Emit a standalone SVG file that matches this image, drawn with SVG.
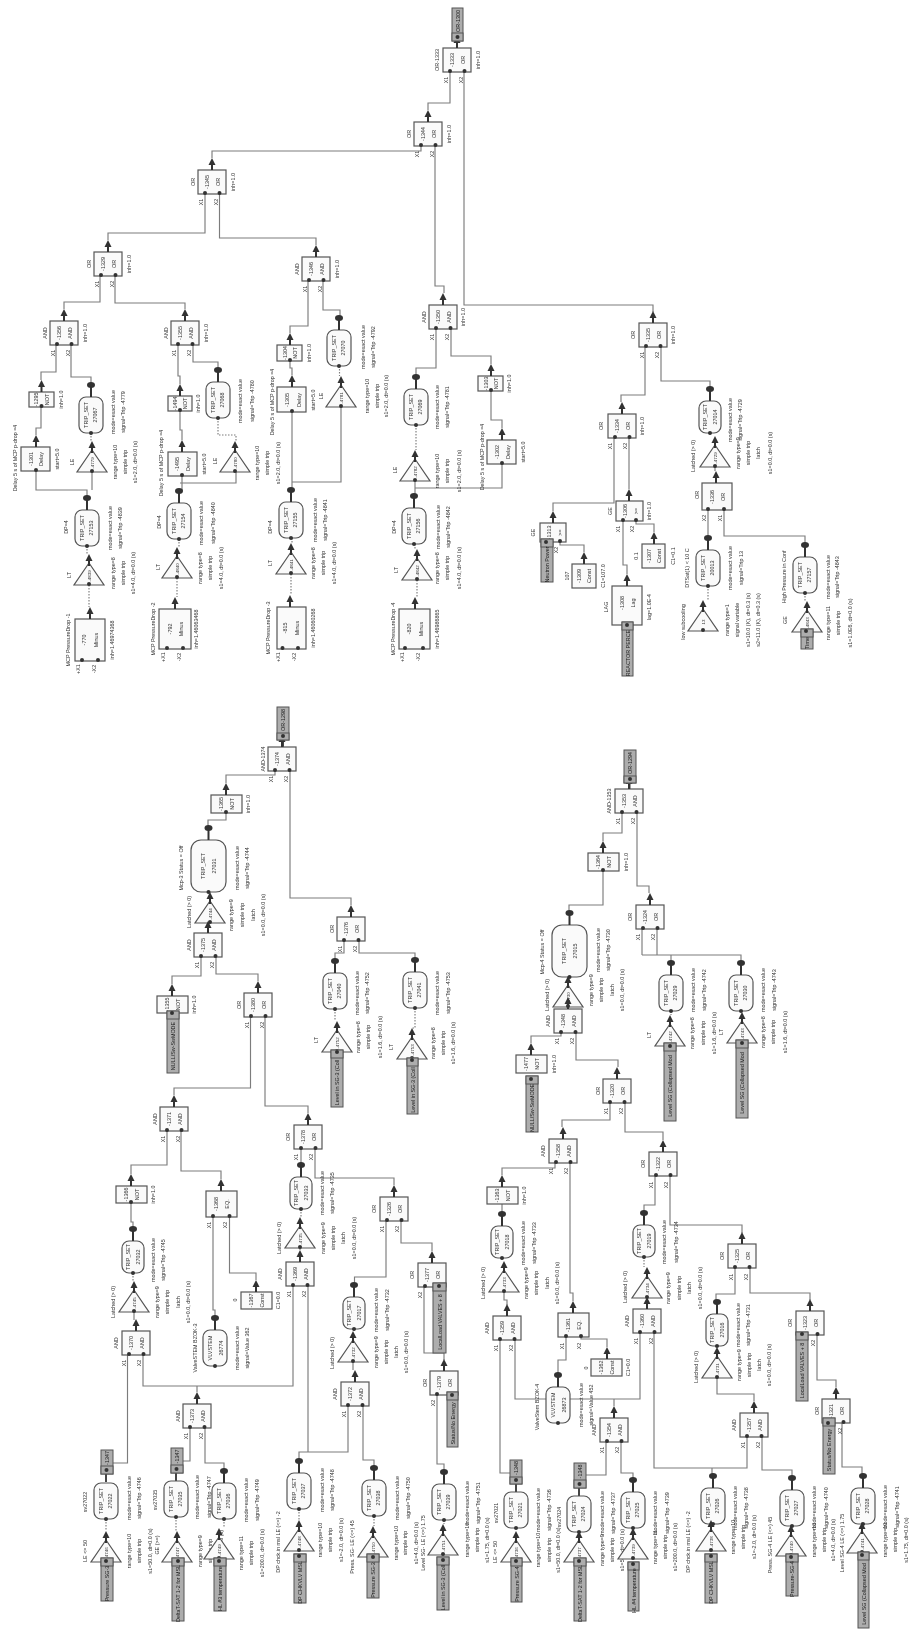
<svg xmlns="http://www.w3.org/2000/svg" width="910" height="1630" viewBox="0 0 910 1630">
<style>
text{font-family:"Liberation Sans",Arial,sans-serif;font-size:5.4px;fill:#333;text-anchor:middle;dominant-baseline:central}
.i{font-size:4.4px}
.b{fill:#fafafa;stroke:#555;stroke-width:1.2}
.tg{fill:#adadad;stroke:#555;stroke-width:1}
.tt{fill:#1c1c1c}
.w path{fill:none;stroke:#7c7c7c;stroke-width:1.15}
.w path.d{stroke-dasharray:1.5 1.5}
.w path.s{stroke:#444;stroke-width:2}
</style>
<defs>
<filter id="bl" filterUnits="userSpaceOnUse" x="0" y="0" width="910" height="1630"><feGaussianBlur stdDeviation="0.45"/></filter>
<circle id="d" r="2" fill="#333"/>
<g id="A"><path d="M0 0H6" stroke="#333" stroke-width="2"/><path d="M5-3.5V3.5L12 0Z" fill="#333"/></g>
<g id="B"><path d="M0 0H12" stroke="#333" stroke-width="2"/><ellipse cx="12" rx="3" ry="4" fill="#333"/></g>
<g id="G"><rect class="b" width="24" height="28"/><use href="#A" x="24" y="14"/><use href="#d" x="1" y="7"/><use href="#d" x="1" y="21.5"/></g>
<g id="R"><rect class="b" width="36" height="24" rx="7"/><use href="#B" x="36" y="12"/><use href="#d" y="12"/></g>
<g id="Q"><rect class="b" width="36" height="24" rx="7"/><use href="#d" y="12"/></g>
<g id="S"><rect class="b" width="32" height="22" rx="7"/><use href="#B" x="32" y="11"/><use href="#d" y="11"/></g>
<g id="U"><rect class="b" width="52" height="35" rx="10"/><use href="#B" x="52" y="17.5"/><use href="#d" y="17.5"/></g>
<g id="T"><path class="b" d="M0 0V30L22 15Z"/><use href="#A" x="19" y="15"/><use href="#d" x="1" y="15"/></g>
</defs>
<rect width="910" height="1630" fill="#fff"/>
<g filter="url(#bl)">
<g id="connectors" class="w">
<path class="s" d="M457 41V48M283 740V747M629.5 783V789M106 1474V1482M176 1473V1481M516 1484V1492M579 1488V1496"/>
<path d="M450 72V103H428V110M464 72V305H653V312M421 146V151H212V158M435 146V286H444V293M205 193V233H108V240M219.5 193V238H316V245M100 275V302H64V309M115 275V303H185V309M56 344V372H41V380M71 344V377H91V385M41 407V428H36V435M36 471V490H87V498M92 472V490"/>
<path d="M178 344V376H180V384M193 344V362H218V370M180 411V430H182V440M182 476V491M236 472V483H180"/>
<path d="M308 280V326H290V333M323 280V310H340V319M290 361V368H292V375M292 412V490M341 407V482H292"/>
<path d="M436 329V368H416V377M415 481V496M451 329V356H491V364M491 391V420H502V428M502 464V488H415"/>
<path d="M645 347V395H621V402M661 347V381H710V390M715 467V471M614 438V503H553V511M629 438V489M560 542V545H584V552M623 520V565H627V574M636 520V524H654V532M708 510V537M724 510V536H805V546"/>
<path class="d" d="M91 433V441M87 546V554M89 585V607M218 418V435H236V441M179 539V547M177 578V597M339.5 366V376M292 538V543M291 574V595M416 425V450M415 544V549M417 580V597M710 433V436M708 586V600M805 593V601"/>
<path d="M275 771V775H226V783M290 771V898H351V905M226 813V820H208V828M201 957V976H172V984M216 957V974H258V981M250.5 1016V1088H174V1095M265 1016V1106H308V1113M167 1130V1165H131V1174M181 1130V1171H221V1179M131 1203V1222H133V1229M134 1312V1320M127.5 1355V1463H113M143 1355V1386H293V1286M197 1392V1386M190 1428V1461H183M205 1428V1463H224V1472M213 1216V1310H215V1319M229.5 1216V1273H256V1280M301 1149V1166M315 1149V1178H394V1185M300 1248V1250M386 1221V1277H354.5V1286M401 1221V1243H432V1251M353 1362V1370M308 1286V1452M348 1406V1452H299V1461M363 1406V1460H374V1468M424 1287V1353H444V1360M437 1395V1464H444V1473M344 941V953H335V961M359 941V953H415V961"/>
<path class="d" d="M133 1273V1281M106 1519V1531M176 1517V1531M224 1519V1528M301 1209V1217M354 1329V1331M299 1509V1520M374 1516V1526M444 1520V1524M335 1009V1021M415 1008V1028H412"/>
<path d="M622 813V833H603V841M637 813V886H649V893M603 871V905H569V913M642 929V955M657 929V955M642 955H741V963M671 955V963M561 1033V1036H531V1043M576 1033V1060H618V1067M610 1103V1120H562V1127M625 1103V1132H663V1140M555 1163V1168H502V1175M570 1163V1293H573V1301M502 1204V1214M504 1292V1300H507V1305M655 1176V1205H644V1214M670 1176V1225H742V1233M735 1268V1294H716V1303M750 1268V1293H810V1300M717 1378V1394H754V1401M747 1437V1468H654V1333M712 1468V1476M762 1437V1470H792V1478M842 1423V1467H862V1476M817 1335V1380H836V1387M500 1340V1473H510M515 1340V1399H640V1333M614 1406V1399M566 1337V1360H558V1376M581 1337V1339H607V1347M606 1442V1475H586M621 1442V1473H633V1481"/>
<path class="d" d="M671 1011V1015M741 1011V1012M502 1258V1261M644 1257V1267M716 1346V1347"/>
</g>
<g id="gates-top">
<g id="n1333" transform="translate(443 72)rotate(-90)"><use href="#G"/><text x="12" y="-6">OR-1333</text><text x="12" y="9">-1333</text><text x="12" y="20">OR</text><text x="12" y="35">inh=1.0</text><text x="-8" y="3">X1</text><text x="-8" y="18">X2</text></g>
<g id="n1344" transform="translate(414 146)rotate(-90)"><use href="#G"/><text x="12" y="-5">OR</text><text x="12" y="9">-1344</text><text x="12" y="20">OR</text><text x="12" y="35">inh=1.0</text><text x="-8" y="3">X1</text><text x="-8" y="18">X2</text></g>
<g id="n1345" transform="translate(198 194)rotate(-90)"><use href="#G"/><text x="12" y="-5">OR</text><text x="12" y="9">-1345</text><text x="12" y="20">OR</text><text x="12" y="35">inh=1.0</text><text x="-8" y="3">X1</text><text x="-8" y="18">X2</text></g>
<g id="n1329" transform="translate(94 276)rotate(-90)"><use href="#G"/><text x="12" y="-5">OR</text><text x="12" y="9">-1329</text><text x="12" y="20">OR</text><text x="12" y="35">inh=1.0</text><text x="-8" y="3">X1</text><text x="-8" y="18">X2</text></g>
<g id="n1346" transform="translate(302 281)rotate(-90)"><use href="#G"/><text x="12" y="-5">AND</text><text x="12" y="9">-1346</text><text x="12" y="20">AND</text><text x="12" y="35">inh=1.0</text><text x="-8" y="3">X1</text><text x="-8" y="18">X2</text></g>
<g id="n1356" transform="translate(50 345)rotate(-90)"><use href="#G"/><text x="12" y="-5">AND</text><text x="12" y="9">-1356</text><text x="12" y="20">AND</text><text x="12" y="35">inh=1.0</text><text x="-8" y="3">X1</text><text x="-8" y="18">X2</text></g>
<g id="n1355" transform="translate(171 345)rotate(-90)"><use href="#G"/><text x="12" y="-5">AND</text><text x="12" y="9">-1355</text><text x="12" y="20">AND</text><text x="12" y="35">inh=1.0</text><text x="-8" y="3">X1</text><text x="-8" y="18">X2</text></g>
<g id="n1350" transform="translate(429 329)rotate(-90)"><use href="#G"/><text x="12" y="-5">AND</text><text x="12" y="9">-1350</text><text x="12" y="20">AND</text><text x="12" y="34">inh=1.0</text><text x="-8" y="3">X1</text><text x="-8" y="18">X2</text></g>
<g id="n1335" transform="translate(639 347)rotate(-90)"><use href="#G"/><text x="12" y="-6">OR</text><text x="12" y="9">-1335</text><text x="12" y="20">OR</text><text x="12" y="34">inh=1.0</text><text x="-8" y="3">X1</text><text x="-8" y="18">X2</text></g>
<g id="n1334" transform="translate(608 438)rotate(-90)"><use href="#G"/><text x="12" y="-7">OR</text><text x="12" y="9">-1334</text><text x="12" y="20">OR</text><text x="12" y="34">inh=1.0</text><text x="-8" y="2">X1</text><text x="-8" y="17">X2</text></g>
</g>
<g id="mcp-chains">
<g id="n1295" transform="translate(29 407)rotate(-90)"><rect class="b" width="15" height="25"/><use href="#A" x="15" y="12.5"/><use href="#d" x="1" y="12.5"/><text x="7.5" y="7">-1295</text><text x="7.5" y="18">NOT</text><text x="7.5" y="32">inh=1.0</text></g>
<g id="n1301" transform="translate(21 471)rotate(-90)"><rect class="b" width="24" height="29"/><use href="#A" x="24" y="15"/><use href="#d" x="1" y="15"/><text x="12" y="10">-1301</text><text x="12" y="20">Delay</text><text x="12" y="36">start=5.0</text><text x="13" y="-6">Delay 5 s of MCP p-drop =4</text></g>
<g id="n27067" transform="translate(79 433)rotate(-90)"><use href="#R"/><text x="18" y="7">TRIP_SET</text><text x="18" y="16">27067</text><text x="21" y="34">mode=exact value</text><text x="21" y="44">signal=Trip -4779</text></g>
<g id="t4779" transform="translate(77 472)rotate(-90)"><use href="#T"/><text class="i" x="9" y="15">-4779</text><text x="10" y="-5">LE</text><text x="10" y="38">range type=10</text><text x="10" y="48">simple trip</text><text x="10" y="58">s1=2.0, dt=0.0 (s)</text></g>
<g id="n27153" transform="translate(75 546)rotate(-90)"><use href="#R"/><text x="18" y="7">TRIP_SET</text><text x="18" y="16">27153</text><text x="18" y="35">mode=exact value</text><text x="18" y="45">signal=Trip -4839</text><text x="19" y="-9">DP=4</text></g>
<g id="t4839" transform="translate(74 585)rotate(-90)"><use href="#T"/><text class="i" x="9" y="15">-4839</text><text x="10" y="-5">LT</text><text x="12" y="39">range type=8</text><text x="12" y="49">simple trip</text><text x="12" y="59">s1=4.0, dt=0.0 (s)</text></g>
<g id="n770" transform="translate(75 661)rotate(-90)"><rect class="b" width="42" height="30"/><use href="#A" x="42" y="15"/><use href="#d" x="1" y="7"/><use href="#d" x="1" y="23"/><text x="21" y="9">-770</text><text x="21" y="21">Minus</text><text x="21" y="-7">MCP PressureDrop -1</text><text x="21" y="37">inh=1.46974368</text><text x="-8" y="3">+X1</text><text x="-8" y="19">-X2</text></g>
<g id="n1494" transform="translate(168 411)rotate(-90)"><rect class="b" width="15" height="24"/><use href="#A" x="15" y="12"/><use href="#d" x="1" y="12"/><text x="7.5" y="7">-1494</text><text x="7.5" y="17">NOT</text><text x="7.5" y="30">inh=1.0</text></g>
<g id="n1495" transform="translate(168 476)rotate(-90)"><rect class="b" width="24" height="29"/><use href="#A" x="24" y="14"/><use href="#d" x="1" y="14"/><text x="12" y="9">-1495</text><text x="12" y="20">Delay</text><text x="12" y="36">start=5.0</text><text x="13" y="-7">Delay 5 s of MCP p-drop =4</text></g>
<g id="n27068" transform="translate(206 418)rotate(-90)"><use href="#R"/><text x="18" y="7">TRIP_SET</text><text x="18" y="16">27068</text><text x="17" y="34">mode=exact value</text><text x="17" y="46">signal=Trip -4780</text></g>
<g id="t4780" transform="translate(220 472)rotate(-90)"><use href="#T"/><text class="i" x="9" y="15">-4780</text><text x="11" y="-5">LE</text><text x="9" y="37">range type=10</text><text x="9" y="47">simple trip</text><text x="9" y="58">s1=2.0, dt=0.0 (s)</text></g>
<g id="n27154" transform="translate(167 539)rotate(-90)"><use href="#R"/><text x="18" y="7">TRIP_SET</text><text x="18" y="16">27154</text><text x="16" y="34">mode=exact value</text><text x="16" y="46">signal=Trip -4840</text><text x="17" y="-8">DP=4</text></g>
<g id="t4840" transform="translate(162 578)rotate(-90)"><use href="#T"/><text class="i" x="9" y="15">-4840</text><text x="11" y="-4">LT</text><text x="10" y="38">range type=8</text><text x="10" y="48">simple trip</text><text x="10" y="59">s1=4.0, dt=0.0 (s)</text></g>
<g id="n792" transform="translate(159 649)rotate(-90)"><rect class="b" width="40" height="32"/><use href="#A" x="40" y="16"/><use href="#d" x="1" y="8"/><use href="#d" x="1" y="24"/><text x="20" y="11">-792</text><text x="20" y="22">Minus</text><text x="20" y="-6">MCP PressureDrop -2</text><text x="20" y="37">inh=1.46063468</text><text x="-8" y="4">+X1</text><text x="-8" y="20">-X2</text></g>
<g id="n1304" transform="translate(277 361)rotate(-90)"><rect class="b" width="16" height="25"/><use href="#A" x="16" y="13"/><use href="#d" x="1" y="13"/><text x="8" y="8">-1304</text><text x="8" y="18">NOT</text><text x="8" y="32">inh=1.0</text></g>
<g id="n1305" transform="translate(277 412)rotate(-90)"><rect class="b" width="25" height="29"/><use href="#A" x="25" y="15"/><use href="#d" x="1" y="15"/><text x="12" y="10">-1305</text><text x="12" y="22">Delay</text><text x="12" y="36">start=5.0</text><text x="10" y="-5">Delay 5 s of MCP p-drop =4</text></g>
<g id="n27070" transform="translate(327 366)rotate(-90)"><use href="#R"/><text x="18" y="7">TRIP_SET</text><text x="18" y="16">27070</text><text x="19" y="36">mode=exact value</text><text x="19" y="46">signal=Trip -4792</text></g>
<g id="t4781" transform="translate(326 407)rotate(-90)"><use href="#T"/><text class="i" x="9" y="15">-4781</text><text x="11" y="-5">LE</text><text x="11" y="41">range type=10</text><text x="11" y="51">simple trip</text><text x="11" y="60">s1=2.0, dt=0.0 (s)</text></g>
<g id="n27155" transform="translate(279 538)rotate(-90)"><use href="#R"/><text x="18" y="7">TRIP_SET</text><text x="18" y="16">27155</text><text x="18" y="36">mode=exact value</text><text x="18" y="46">signal=Trip -4841</text><text x="11" y="-9">DP=4</text></g>
<g id="t4841" transform="translate(276 574)rotate(-90)"><use href="#T"/><text class="i" x="9" y="15">-4841</text><text x="11" y="-6">LT</text><text x="11" y="37">range type=8</text><text x="11" y="47">simple trip</text><text x="11" y="58">s1=4.0, dt=0.0 (s)</text></g>
<g id="n815" transform="translate(277 649)rotate(-90)"><rect class="b" width="42" height="29"/><use href="#A" x="42" y="13"/><use href="#d" x="1" y="5.5"/><use href="#d" x="1" y="21"/><text x="21" y="8">-815</text><text x="21" y="20">Minus</text><text x="21" y="-9">MCP PressureDrop -3</text><text x="21" y="36">inh=1.46060268</text><text x="-8" y="1">+X1</text><text x="-8" y="17">-X2</text></g>
<g id="n27069" transform="translate(404 425)rotate(-90)"><use href="#R"/><text x="18" y="7">TRIP_SET</text><text x="18" y="16">27069</text><text x="18" y="33">mode=exact value</text><text x="18" y="43">signal=Trip -4781</text></g>
<g id="t4782" transform="translate(400 481)rotate(-90)"><use href="#T"/><text class="i" x="9" y="15">-4782</text><text x="11" y="-5">LE</text><text x="10" y="37">range type=10</text><text x="10" y="47">simple trip</text><text x="10" y="59">s1=2.0, dt=0.0 (s)</text></g>
<g id="n1303" transform="translate(478 391)rotate(-90)"><rect class="b" width="15" height="25"/><use href="#A" x="15" y="13"/><use href="#d" x="1" y="13"/><text x="7.5" y="8">-1303</text><text x="7.5" y="18">NOT</text><text x="7.5" y="31">inh=1.0</text></g>
<g id="n1302" transform="translate(487 464)rotate(-90)"><rect class="b" width="24" height="29"/><use href="#A" x="24" y="15"/><use href="#d" x="1" y="15"/><text x="12" y="10">-1302</text><text x="12" y="21">Delay</text><text x="12" y="36">start=5.0</text><text x="7" y="-5">Delay 5 s of MCP p-drop =4</text></g>
<g id="n27156" transform="translate(402 544)rotate(-90)"><use href="#R"/><text x="18" y="7">TRIP_SET</text><text x="18" y="16">27156</text><text x="17" y="36">mode=exact value</text><text x="17" y="46">signal=Trip -4842</text><text x="17" y="-8">DP=4</text></g>
<g id="t4842" transform="translate(402 580)rotate(-90)"><use href="#T"/><text class="i" x="9" y="15">-4842</text><text x="10" y="-6">LT</text><text x="12" y="35">range type=8</text><text x="12" y="45">simple trip</text><text x="12" y="57">s1=4.0, dt=0.0 (s)</text></g>
<g id="n820" transform="translate(399 649)rotate(-90)"><rect class="b" width="40" height="31"/><use href="#A" x="40" y="16"/><use href="#d" x="1" y="6"/><use href="#d" x="1" y="24"/><text x="20" y="10">-820</text><text x="20" y="22">Minus</text><text x="20" y="-6">MCP PressureDrop -4</text><text x="20" y="38">inh=1.46986865</text><text x="-8" y="3">+X1</text><text x="-8" y="19">-X2</text></g>
</g>
<g id="power-chain">
<g id="n27014" transform="translate(699 433)rotate(-90)"><use href="#S"/><text x="16" y="6">TRIP_SET</text><text x="16" y="16">27014</text><text x="13" y="31">mode=exact value</text><text x="13" y="41">signal=Trip -4729</text></g>
<g id="t4729" transform="translate(700 467)rotate(-90)"><use href="#T"/><text class="i" x="9" y="15">-4729</text><text x="11" y="-7">Latched (&gt; 0)</text><text x="14" y="38">range type=9</text><text x="14" y="48">simple trip</text><text x="14" y="58">latch</text><text x="14" y="70">s1=0.0, dt=0.0 (s)</text></g>
<g id="n1336" transform="translate(702 510)rotate(-90)"><rect class="b" width="27" height="30"/><use href="#A" x="27" y="14"/><use href="#d" x="1" y="6"/><use href="#d" x="1" y="22"/><text x="15" y="-5">OR</text><text x="13" y="10">-1336</text><text x="13" y="21">OR</text><text x="-8" y="2">X2</text><text x="-8" y="18">X1</text></g>
<g id="n20013" transform="translate(696 586)rotate(-90)"><use href="#R"/><text x="18" y="7">TRIP_SET</text><text x="18" y="16">20013</text><text x="18" y="34">mode=exact value</text><text x="18" y="45">signal=Trip 13</text><text x="18" y="-9">DTSat(1) &lt; 10 C</text></g>
<g id="t13" transform="translate(688 631)rotate(-90)"><use href="#T"/><text class="i" x="9" y="15">13</text><text x="9" y="-5">low subcooling</text><text x="11" y="39">range type=1</text><text x="11" y="49">signal variable</text><text x="11" y="60">s1=10.0 (K), dt=0.3 (s)</text><text x="11" y="70">s2=11.0 (K), dt=0.3 (s)</text></g>
<g id="n27157" transform="translate(793 593)rotate(-90)"><use href="#R"/><text x="18" y="7">TRIP_SET</text><text x="18" y="16">27157</text><text x="16" y="35">mode=exact value</text><text x="16" y="44">signal=Trip -4843</text><text x="16" y="-9">High Pressure in Conf</text></g>
<g id="t4843" transform="translate(792 632)rotate(-90)"><use href="#T"/><text class="i" x="9" y="15">-4843</text><text x="12" y="-7">GE</text><text x="9" y="36">range type=11</text><text x="9" y="46">simple trip</text><text x="9" y="58">s1=1.0E6, dt=0.0 (s)</text></g>
<g id="n1306" transform="translate(616 521)rotate(-90)"><rect class="b" width="20" height="27"/><use href="#A" x="20" y="13"/><use href="#d" x="1" y="7"/><use href="#d" x="1" y="20"/><text x="10" y="-6">GE</text><text x="10" y="9">-1306</text><text x="10" y="20">&gt;=</text><text x="10" y="33">inh=1.0</text><text x="-8" y="2">X1</text><text x="-8" y="16">X2</text></g>
<g id="n1313" transform="translate(540 542)rotate(-90)"><rect class="b" width="19" height="26"/><use href="#A" x="19" y="13"/><use href="#d" x="1" y="20"/><text x="9.5" y="-7">GE</text><text x="9.5" y="9">-1313</text><text x="9.5" y="20">&gt;=</text><text x="-8" y="16">X2</text></g>
<g id="n1309" transform="translate(572 588)rotate(-90)"><rect class="b" width="24" height="24"/><use href="#A" x="24" y="12"/><text x="12" y="-5">107</text><text x="12" y="7">-1309</text><text x="12" y="17">Const</text><text x="12" y="31">C1=107.0</text></g>
<g id="n1308" transform="translate(612 625)rotate(-90)"><rect class="b" width="39" height="30"/><use href="#A" x="39" y="15"/><text x="18" y="-6">LAG</text><text x="22" y="10">-1308</text><text x="22" y="21">Lag</text><text x="18" y="37">lag=1.0E-4</text></g>
<g id="n1307" transform="translate(642 568)rotate(-90)"><rect class="b" width="24" height="23"/><use href="#A" x="24" y="12"/><text x="12" y="-6">0.1</text><text x="12" y="7">-1307</text><text x="12" y="17">Const</text><text x="12" y="31">C1=0.1</text></g>
</g>
<g id="mcp3">
<g id="n1374" transform="translate(268 771)rotate(-90)"><use href="#G"/><text x="12" y="-5">AND-1374</text><text x="12" y="9">-1374</text><text x="12" y="20">AND</text><text x="-8" y="3">X1</text><text x="-8" y="18">X2</text></g>
<g id="n1365" transform="translate(211 813)rotate(-90)"><rect class="b" width="18" height="31"/><use href="#A" x="18" y="15"/><use href="#d" x="1" y="15"/><text x="9" y="10">-1365</text><text x="9" y="21">NOT</text><text x="9" y="37">inh=1.0</text></g>
<g id="n27031" transform="translate(191 892)rotate(-90)"><use href="#U"/><text x="26" y="12">TRIP_SET</text><text x="26" y="23">27031</text><text x="24" y="46">mode=exact value</text><text x="24" y="56">signal=Trip -4744</text><text x="24" y="-10">Mcp-3 Status = Off</text></g>
<g id="t4744" transform="translate(195 923)rotate(-90)"><use href="#T"/><text class="i" x="9" y="15">-4744</text><text x="11" y="-6">Latched (&gt; 0)</text><text x="8" y="36">range type=9</text><text x="8" y="47">simple trip</text><text x="8" y="58">latch</text><text x="8" y="68">s1=0.0, dt=0.0 (s)</text></g>
<g id="n1375" transform="translate(194 957)rotate(-90)"><use href="#G"/><text x="12" y="-5">AND</text><text x="12" y="9">-1375</text><text x="12" y="20">AND</text><text x="-8" y="3">X1</text><text x="-8" y="18">X2</text></g>
<g id="n1355b" transform="translate(157 1013)rotate(-90)"><rect class="b" width="17" height="31"/><use href="#A" x="17" y="15"/><text x="8.5" y="10">-1355</text><text x="8.5" y="21">NOT</text><text x="8.5" y="37">inh=1.0</text></g>
<g id="n1380" transform="translate(244 1017)rotate(-90)"><use href="#G"/><text x="12" y="-5">OR</text><text x="12" y="9">-1380</text><text x="12" y="20">OR</text><text x="-8" y="3">X1</text><text x="-8" y="18">X2</text></g>
<g id="n1371" transform="translate(160 1131)rotate(-90)"><use href="#G"/><text x="12" y="-5">AND</text><text x="12" y="9">-1371</text><text x="12" y="20">AND</text><text x="-8" y="3">X1</text><text x="-8" y="18">X2</text></g>
<g id="n1366" transform="translate(116 1203)rotate(-90)"><rect class="b" width="17" height="31"/><use href="#A" x="17" y="15"/><use href="#d" x="1" y="15"/><text x="8.5" y="10">-1366</text><text x="8.5" y="21">NOT</text><text x="8.5" y="37">inh=1.0</text></g>
<g id="n27032" transform="translate(122 1273)rotate(-90)"><use href="#S"/><text x="16" y="6">TRIP_SET</text><text x="16" y="16">27032</text><text x="13" y="31">mode=exact value</text><text x="13" y="41">signal=Trip -4745</text></g>
<g id="t4745" transform="translate(119 1312)rotate(-90)"><use href="#T"/><text class="i" x="9" y="15">-4745</text><text x="10" y="-6">Latched (&gt; 0)</text><text x="10" y="38">range type=9</text><text x="10" y="48">simple trip</text><text x="10" y="59">latch</text><text x="10" y="69">s1=0.0, dt=0.0 (s)</text></g>
<g id="n1370" transform="translate(122 1355)rotate(-90)"><use href="#G"/><text x="12" y="-6">AND</text><text x="12" y="9">-1370</text><text x="12" y="20">AND</text><text x="-8" y="2">X1</text><text x="-8" y="17">X2</text></g>
<g id="n27022" transform="translate(94 1519)rotate(-90)"><use href="#Q"/><text x="18" y="7">TRIP_SET</text><text x="18" y="16">27022</text><text x="21" y="35">mode=exact value</text><text x="21" y="45">signal=Trip -4746</text><text x="17" y="-9">sv27022</text></g>
<g id="t4746" transform="translate(91 1562)rotate(-90)"><use href="#T"/><text class="i" x="9" y="15">-4746</text><text x="11" y="-6">LE &lt;= 50</text><text x="11" y="38">range type=10</text><text x="11" y="48">simple trip</text><text x="11" y="59">s1=50.0, dt=0.0 (s)</text></g>
<g id="n1373" transform="translate(183 1428)rotate(-90)"><use href="#G"/><text x="12" y="-5">AND</text><text x="12" y="9">-1373</text><text x="12" y="20">AND</text><text x="-8" y="3">X1</text><text x="-8" y="18">X2</text></g>
<g id="n27035" transform="translate(164 1517)rotate(-90)"><use href="#Q"/><text x="18" y="7">TRIP_SET</text><text x="18" y="16">27035</text><text x="20" y="33">mode=exact value</text><text x="20" y="45">signal=Trip -4747</text><text x="17" y="-9">sv27035</text></g>
<g id="t4747" transform="translate(162 1562)rotate(-90)"><use href="#T"/><text class="i" x="9" y="15">-4747</text><text x="17" y="-5">GE (&gt;=)</text><text x="11" y="38">range type=9</text><text x="11" y="48">simple trip</text><text x="11" y="59">s1=5.0, dt=0.0 (s)</text></g>
<g id="n27036" transform="translate(212 1519)rotate(-90)"><use href="#R"/><text x="18" y="7">TRIP_SET</text><text x="18" y="16">27036</text><text x="19" y="34">mode=exact value</text><text x="19" y="45">signal=Trip -4749</text></g>
<g id="t4749" transform="translate(204 1559)rotate(-90)"><use href="#T"/><text class="i" x="9" y="15">-4749</text><text x="6" y="37">range type=11</text><text x="6" y="47">simple trip</text><text x="6" y="58">s1=200.0, dt=0.0 (s)</text></g>
<g id="n1368" transform="translate(206 1217)rotate(-90)"><rect class="b" width="26" height="31"/><use href="#A" x="26" y="15"/><use href="#d" x="1" y="7"/><use href="#d" x="1" y="23.5"/><text x="13" y="10">-1368</text><text x="13" y="21">EQ.</text><text x="-8" y="3">X1</text><text x="-8" y="19">X2</text></g>
<g id="n1367" transform="translate(241 1309)rotate(-90)"><rect class="b" width="17" height="31"/><use href="#A" x="17" y="15"/><text x="9" y="-6">0</text><text x="8.5" y="10">-1367</text><text x="8.5" y="21">Const</text><text x="8.5" y="37">C1=0.0</text></g>
<g id="n26774" transform="translate(203 1366)rotate(-90)"><use href="#R"/><text x="18" y="7">VLVSTEM</text><text x="18" y="18">26774</text><text x="18" y="34">mode=exact value</text><text x="18" y="44">signal=Value 362</text><text x="18" y="-8">ValveSTEM BZOK-3</text></g>
<g id="n1378" transform="translate(294 1149)rotate(-90)"><use href="#G"/><text x="12" y="-6">OR</text><text x="12" y="9">-1378</text><text x="12" y="20">OR</text><text x="-8" y="2">X1</text><text x="-8" y="17">X2</text></g>
<g id="n27033" transform="translate(290 1209)rotate(-90)"><use href="#S"/><text x="16" y="6">TRIP_SET</text><text x="16" y="16">27033</text><text x="16" y="32">mode=exact value</text><text x="16" y="42">signal=Trip -4735</text></g>
<g id="t4735" transform="translate(285 1248)rotate(-90)"><use href="#T"/><text class="i" x="9" y="15">-4735</text><text x="10" y="-6">Latched (&gt; 0)</text><text x="10" y="38">range type=9</text><text x="10" y="48">simple trip</text><text x="10" y="58">latch</text><text x="10" y="69">s1=0.0, dt=0.0 (s)</text></g>
<g id="n1369" transform="translate(286 1286)rotate(-90)"><use href="#G"/><text x="12" y="-6">AND</text><text x="12" y="9">-1369</text><text x="12" y="20">AND</text><text x="-8" y="3">X1</text><text x="-8" y="18">X2</text></g>
<g id="n27037" transform="translate(287 1509)rotate(-90)"><use href="#R"/><text x="18" y="7">TRIP_SET</text><text x="18" y="16">27037</text><text x="19" y="35">mode=exact value</text><text x="19" y="45">signal=Trip -4748</text></g>
<g id="t4748" transform="translate(284 1551)rotate(-90)"><use href="#T"/><text class="i" x="9" y="15">-4748</text><text x="9" y="-6">DP chck.in msl LE (&lt;=) -2</text><text x="11" y="36">range type=10</text><text x="11" y="46">simple trip</text><text x="11" y="57">s1=-2.0, dt=0.0 (s)</text></g>
<g id="n1326" transform="translate(380 1221)rotate(-90)"><use href="#G"/><text x="12" y="-6">OR</text><text x="12" y="9">-1326</text><text x="12" y="20">OR</text><text x="-8" y="2">X1</text><text x="-8" y="17">X2</text></g>
<g id="n27017" transform="translate(343 1329)rotate(-90)"><use href="#S"/><text x="16" y="6">TRIP_SET</text><text x="16" y="16">27017</text><text x="19" y="33">mode=exact value</text><text x="19" y="44">signal=Trip -4732</text></g>
<g id="t4732" transform="translate(338 1362)rotate(-90)"><use href="#T"/><text class="i" x="9" y="15">-4732</text><text x="9" y="-6">Latched (&gt; 0)</text><text x="10" y="38">range type=9</text><text x="10" y="48">simple trip</text><text x="10" y="58">latch</text><text x="10" y="68">s1=0.0, dt=0.0 (s)</text></g>
<g id="n1372" transform="translate(341 1406)rotate(-90)"><use href="#G"/><text x="12" y="-6">AND</text><text x="12" y="9">-1372</text><text x="12" y="20">AND</text><text x="-8" y="3">X1</text><text x="-8" y="18">X2</text></g>
<g id="n27038" transform="translate(362 1516)rotate(-90)"><use href="#R"/><text x="18" y="7">TRIP_SET</text><text x="18" y="16">27038</text><text x="18" y="35">mode=exact value</text><text x="18" y="46">signal=Trip -4750</text></g>
<g id="t4750" transform="translate(358 1557)rotate(-90)"><use href="#T"/><text class="i" x="9" y="15">-4750</text><text x="10" y="-6">Press. SG- LE (&lt;=) 45</text><text x="14" y="38">range type=10</text><text x="14" y="47">simple trip</text><text x="14" y="58">s1=4.0, dt=0.0 (s)</text></g>
<g id="n1377" transform="translate(418 1287)rotate(-90)"><use href="#G"/><text x="12" y="-6">OR</text><text x="12" y="9">-1377</text><text x="12" y="20">OR</text><text x="-8" y="2">X2</text></g>
<g id="n1379" transform="translate(430 1395)rotate(-90)"><use href="#G"/><text x="12" y="-5.5">OR</text><text x="12" y="9">-1379</text><text x="12" y="20">OR</text><text x="-8" y="3">X2</text></g>
<g id="n27039" transform="translate(432 1520)rotate(-90)"><use href="#R"/><text x="18" y="7">TRIP_SET</text><text x="18" y="16">27039</text><text x="17" y="35">mode=exact value</text><text x="17" y="46">signal=Trip -4751</text></g>
<g id="t4751" transform="translate(428 1555)rotate(-90)"><use href="#T"/><text class="i" x="9" y="15">-4751</text><text x="12" y="-5">Level SG- LE (&lt;=) 1.75</text><text x="15" y="39">range type=10</text><text x="15" y="49">simple trip</text><text x="15" y="59">s1=1.75, dt=0.0 (s)</text></g>
<g id="n1376" transform="translate(337 941)rotate(-90)"><use href="#G"/><text x="12" y="-5">OR</text><text x="12" y="9">-1376</text><text x="12" y="20">OR</text><text x="-8" y="3">X1</text><text x="-8" y="18">X2</text></g>
<g id="n27040" transform="translate(323 1009)rotate(-90)"><use href="#R"/><text x="18" y="7">TRIP_SET</text><text x="18" y="16">27040</text><text x="16" y="34">mode=exact value</text><text x="16" y="44">signal=Trip -4752</text></g>
<g id="t4752" transform="translate(322 1052)rotate(-90)"><use href="#T"/><text class="i" x="9" y="15">-4752</text><text x="12" y="-6">LT</text><text x="15" y="36">range type=8</text><text x="15" y="46">simple trip</text><text x="15" y="58">s1=1.6, dt=0.0 (s)</text></g>
<g id="n27041" transform="translate(403 1008)rotate(-90)"><use href="#R"/><text x="18" y="7">TRIP_SET</text><text x="18" y="16">27041</text><text x="15" y="34">mode=exact value</text><text x="15" y="45">signal=Trip -4753</text></g>
<g id="t4753" transform="translate(397 1059)rotate(-90)"><use href="#T"/><text class="i" x="9" y="15">-4753</text><text x="12" y="-6">LT</text><text x="16" y="36">range type=8</text><text x="16" y="46">simple trip</text><text x="16" y="56">s1=1.6, dt=0.0 (s)</text></g>
</g>
<g id="mcp4">
<g id="n1353" transform="translate(615 813)rotate(-90)"><use href="#G"/><text x="12" y="-6">AND-1353</text><text x="12" y="9">-1353</text><text x="12" y="20">AND</text><text x="-8" y="3">X1</text><text x="-8" y="18">X2</text></g>
<g id="n1364" transform="translate(588 871)rotate(-90)"><rect class="b" width="18" height="31"/><use href="#A" x="18" y="15"/><use href="#d" x="1" y="15"/><text x="9" y="10">-1364</text><text x="9" y="21">NOT</text><text x="9" y="38">inh=1.0</text></g>
<g id="n27015" transform="translate(552 977)rotate(-90)"><use href="#U"/><text x="26" y="12">TRIP_SET</text><text x="26" y="23">27015</text><text x="27" y="46">mode=exact value</text><text x="27" y="56">signal=Trip -4730</text><text x="25" y="-10">Mcp-4 Status = Off</text></g>
<g id="t4730" transform="translate(553 1007)rotate(-90)"><use href="#T"/><text class="i" x="9" y="15">-4730</text><text x="12" y="-6">Latched (&gt; 0)</text><text x="17" y="38">range type=9</text><text x="17" y="48">simple trip</text><text x="17" y="59">latch</text><text x="17" y="69">s1=0.0, dt=0.0 (s)</text></g>
<g id="n1348" transform="translate(554 1033)rotate(-90)"><use href="#G"/><text x="12" y="-6">AND</text><text x="12" y="9">-1348</text><text x="12" y="20">AND</text><text x="-8" y="3">X1</text><text x="-8" y="18">X2</text></g>
<g id="n1477" transform="translate(516 1073)rotate(-90)"><rect class="b" width="18" height="31"/><use href="#A" x="18" y="15"/><text x="9" y="10">-1477</text><text x="9" y="21">NOT</text><text x="9" y="38">inh=1.0</text></g>
<g id="n1324" transform="translate(636 929)rotate(-90)"><use href="#G"/><text x="12" y="-6">OR</text><text x="12" y="9">-1324</text><text x="12" y="20">OR</text><text x="-8" y="2">X1</text><text x="-8" y="17">X2</text></g>
<g id="n27029" transform="translate(659 1011)rotate(-90)"><use href="#R"/><text x="18" y="7">TRIP_SET</text><text x="18" y="16">27029</text><text x="21" y="34">mode=exact value</text><text x="21" y="45">signal=Trip -4742</text></g>
<g id="t4742" transform="translate(655 1046)rotate(-90)"><use href="#T"/><text class="i" x="9" y="15">-4742</text><text x="11" y="-6">LT</text><text x="13" y="37">range type=8</text><text x="13" y="48">simple trip</text><text x="13" y="59">s1=1.6, dt=0.0 (s)</text></g>
<g id="n27030" transform="translate(729 1011)rotate(-90)"><use href="#R"/><text x="18" y="7">TRIP_SET</text><text x="18" y="16">27030</text><text x="21" y="34">mode=exact value</text><text x="21" y="45">signal=Trip -4743</text></g>
<g id="t4743" transform="translate(727 1043)rotate(-90)"><use href="#T"/><text class="i" x="9" y="15">-4743</text><text x="11" y="-6">LT</text><text x="11" y="36">range type=8</text><text x="11" y="46">simple trip</text><text x="11" y="58">s1=1.6, dt=0.0 (s)</text></g>
<g id="n1320" transform="translate(603 1103)rotate(-90)"><use href="#G"/><text x="12" y="-5">OR</text><text x="12" y="9">-1320</text><text x="12" y="20">OR</text><text x="-8" y="3">X1</text><text x="-8" y="18">X2</text></g>
<g id="n1358" transform="translate(549 1163)rotate(-90)"><use href="#G"/><text x="12" y="-6">AND</text><text x="12" y="9">-1358</text><text x="12" y="20">AND</text><text x="-8" y="2">X1</text><text x="-8" y="17">X2</text></g>
<g id="n1322" transform="translate(649 1176)rotate(-90)"><use href="#G"/><text x="12" y="-6">OR</text><text x="12" y="9">-1322</text><text x="12" y="20">OR</text><text x="-9" y="2">X1</text><text x="-9" y="17">X2</text></g>
<g id="n1363" transform="translate(487 1204)rotate(-90)"><rect class="b" width="17" height="31"/><use href="#A" x="17" y="15"/><text x="8.5" y="10">-1363</text><text x="8.5" y="21">NOT</text><text x="8.5" y="37">inh=1.0</text></g>
<g id="n27018" transform="translate(491 1258)rotate(-90)"><use href="#S"/><text x="16" y="6">TRIP_SET</text><text x="16" y="16">27018</text><text x="15" y="32">mode=exact value</text><text x="15" y="43">signal=Trip -4733</text></g>
<g id="t4733" transform="translate(489 1292)rotate(-90)"><use href="#T"/><text class="i" x="9" y="15">-4733</text><text x="9" y="-6">Latched (&gt; 0)</text><text x="9" y="37">range type=9</text><text x="9" y="47">simple trip</text><text x="9" y="58">latch</text><text x="9" y="68">s1=0.0, dt=0.0 (s)</text></g>
<g id="n1359" transform="translate(493 1340)rotate(-90)"><use href="#G"/><text x="12" y="-6">AND</text><text x="12" y="9">-1359</text><text x="12" y="20">AND</text><text x="-8" y="3">X1</text><text x="-8" y="18">X2</text></g>
<g id="n1361" transform="translate(558 1337)rotate(-90)"><rect class="b" width="24" height="31"/><use href="#A" x="24" y="15"/><use href="#d" x="1" y="8"/><use href="#d" x="1" y="23"/><text x="12" y="10">-1361</text><text x="12" y="21">EQ.</text><text x="-9" y="4">X1</text><text x="-9" y="21">X2</text></g>
<g id="n1362" transform="translate(591 1376)rotate(-90)"><rect class="b" width="17" height="31"/><use href="#A" x="17" y="16"/><text x="8" y="-5">0</text><text x="8.5" y="10">-1362</text><text x="8.5" y="21">Const</text><text x="8.5" y="37">C1=0.0</text></g>
<g id="n26873" transform="translate(546 1423)rotate(-90)"><use href="#R"/><text x="18" y="7">VLVSTEM</text><text x="18" y="18">26873</text><text x="18" y="35">mode=exact value</text><text x="18" y="45">signal=Value 452</text><text x="16" y="-9">ValveStem BZOK-4</text></g>
<g id="n1360" transform="translate(633 1333)rotate(-90)"><use href="#G"/><text x="12" y="-6">AND</text><text x="12" y="9">-1360</text><text x="12" y="20">AND</text><text x="-8" y="3">X1</text><text x="-8" y="18">X2</text></g>
<g id="n27019" transform="translate(633 1257)rotate(-90)"><use href="#S"/><text x="16" y="6">TRIP_SET</text><text x="16" y="16">27019</text><text x="15" y="31">mode=exact value</text><text x="15" y="43">signal=Trip -4734</text></g>
<g id="t4734" transform="translate(632 1298)rotate(-90)"><use href="#T"/><text class="i" x="9" y="15">-4734</text><text x="11" y="-7">Latched (&gt; 0)</text><text x="10" y="36">range type=9</text><text x="10" y="47">simple trip</text><text x="10" y="57">latch</text><text x="10" y="68">s1=0.0, dt=0.0 (s)</text></g>
<g id="n1354" transform="translate(600 1442)rotate(-90)"><use href="#G"/><text x="12" y="-6">AND</text><text x="12" y="9">-1354</text><text x="12" y="20">AND</text><text x="-8" y="2">X1</text><text x="-8" y="17">X2</text></g>
<g id="n1325" transform="translate(728 1268)rotate(-90)"><use href="#G"/><text x="12" y="-6">OR</text><text x="12" y="9">-1325</text><text x="12" y="20">OR</text><text x="-9" y="3">X1</text><text x="-9" y="18">X2</text></g>
<g id="n27016" transform="translate(706 1346)rotate(-90)"><use href="#S"/><text x="16" y="6">TRIP_SET</text><text x="16" y="16">27016</text><text x="21" y="32">mode=exact value</text><text x="21" y="42">signal=Trip -4731</text></g>
<g id="t4731" transform="translate(702 1378)rotate(-90)"><use href="#T"/><text class="i" x="9" y="15">-4731</text><text x="11" y="-6">Latched (&gt; 0)</text><text x="13" y="37">range type=9</text><text x="13" y="47">simple trip</text><text x="13" y="57">latch</text><text x="13" y="67">s1=0.0, dt=0.0 (s)</text></g>
<g id="n1357" transform="translate(740 1437)rotate(-90)"><use href="#G"/><text x="12" y="-6">AND</text><text x="12" y="9">-1357</text><text x="12" y="20">AND</text><text x="-8" y="3">X1</text><text x="-8" y="18">X2</text></g>
<g id="n1323" transform="translate(796 1335)rotate(-90)"><use href="#G"/><text x="12" y="-6">OR</text><text x="12" y="9">-1323</text><text x="12" y="20">OR</text><text x="-8" y="17">X2</text></g>
<g id="n1321" transform="translate(822 1423)rotate(-90)"><use href="#G"/><text x="12" y="-5">OR</text><text x="12" y="9">-1321</text><text x="12" y="20">OR</text><text x="-8" y="18">X2</text></g>
<g id="n27021" transform="translate(504 1528)rotate(-90)"><use href="#Q"/><text x="18" y="7">TRIP_SET</text><text x="18" y="16">27021</text><text x="18" y="34">mode=exact value</text><text x="18" y="45">signal=Trip -4736</text><text x="15" y="-8">sv27021</text></g>
<g id="t4736" transform="translate(501 1562)rotate(-90)"><use href="#T"/><text class="i" x="9" y="15">-4736</text><text x="10" y="-6">LE &lt;= 50</text><text x="12" y="37">range type=10</text><text x="12" y="48">simple trip</text><text x="12" y="57">s1=50.0, dt=0.0 (s)</text></g>
<g id="n27024" transform="translate(567 1532)rotate(-90)"><use href="#Q"/><text x="18" y="7">TRIP_SET</text><text x="18" y="16">27024</text><text x="19" y="35">mode=exact value</text><text x="19" y="46">signal=Trip -4737</text><text x="15" y="-8">sv27024</text></g>
<g id="t4737" transform="translate(564 1562)rotate(-90)"><use href="#T"/><text class="i" x="9" y="15">-4737</text><text x="12" y="38">range type=9</text><text x="12" y="48">simple trip</text><text x="12" y="58">s1=5.0, dt=0.0 (s)</text></g>
<g id="n27025" transform="translate(621 1528)rotate(-90)"><use href="#R"/><text x="18" y="7">TRIP_SET</text><text x="18" y="16">27025</text><text x="15" y="34">mode=exact value</text><text x="15" y="46">signal=Trip -4739</text></g>
<g id="t4739" transform="translate(618 1559)rotate(-90)"><use href="#T"/><text class="i" x="9" y="15">-4739</text><text x="12" y="37">range type=11</text><text x="12" y="47">simple trip</text><text x="12" y="57">s1=200.0, dt=0.0 (s)</text></g>
<g id="n27026" transform="translate(701 1524)rotate(-90)"><use href="#R"/><text x="18" y="7">TRIP_SET</text><text x="18" y="16">27026</text><text x="16" y="34">mode=exact value</text><text x="16" y="45">signal=Trip -4738</text></g>
<g id="t4738" transform="translate(696 1551)rotate(-90)"><use href="#T"/><text class="i" x="9" y="15">-4738</text><text x="9" y="-8">DP chck.in msl LE (&lt;=) -2</text><text x="14" y="37">range type=10</text><text x="14" y="47">simple trip</text><text x="14" y="58">s1=-2.0, dt=0.0 (s)</text></g>
<g id="n27027" transform="translate(780 1526)rotate(-90)"><use href="#R"/><text x="18" y="7">TRIP_SET</text><text x="18" y="16">27027</text><text x="18" y="34">mode=exact value</text><text x="18" y="46">signal=Trip -4740</text></g>
<g id="t4740" transform="translate(776 1556)rotate(-90)"><use href="#T"/><text class="i" x="9" y="15">-4740</text><text x="11" y="-6">Press. SG-4 LE (&lt;=) 45</text><text x="16" y="38">range type=10</text><text x="16" y="48">simple trip</text><text x="16" y="57">s1=4.0, dt=0.0 (s)</text></g>
<g id="n27028" transform="translate(851 1524)rotate(-90)"><use href="#R"/><text x="18" y="7">TRIP_SET</text><text x="18" y="16">27028</text><text x="17" y="34">mode=exact value</text><text x="17" y="46">signal=Trip -4741</text></g>
<g id="t4741" transform="translate(847 1553)rotate(-90)"><use href="#T"/><text class="i" x="9" y="15">-4741</text><text x="10" y="-5">Level SG-4 LE (&lt;=) 1.75</text><text x="13" y="38">range type=10</text><text x="13" y="48">simple trip</text><text x="13" y="59">s1=1.75, dt=0.0 (s)</text></g>
</g>
<g id="tags">
<g id="oOR1300" transform="translate(452 41)rotate(-90)"><rect class="tg" width="33" height="11"/><rect class="tg" width="8" height="11"/><use href="#d" x="4" y="5.5"/><text class="tt" x="20" y="5.5">OR-1300</text></g>
<g id="oOR1298" transform="translate(277 740)rotate(-90)"><rect class="tg" width="33" height="12"/><rect class="tg" width="7" height="12"/><use href="#d" x="4" y="6"/><text class="tt" x="20" y="6">OR-1298</text></g>
<g id="oOR1294" transform="translate(624 783)rotate(-90)"><rect class="tg" width="33" height="12"/><rect class="tg" width="7" height="12"/><use href="#d" x="4" y="6"/><text class="tt" x="20" y="6">OR-1294</text></g>
<g id="o1347a" transform="translate(101 1474)rotate(-90)"><rect class="tg" width="24" height="12"/><rect class="tg" width="8" height="12"/><use href="#d" x="4" y="5.5"/><text class="tt" x="16" y="6">-1347</text></g>
<g id="o1347b" transform="translate(171 1473)rotate(-90)"><rect class="tg" width="25" height="12"/><rect class="tg" width="8" height="12"/><use href="#d" x="4" y="5.5"/><text class="tt" x="16.5" y="6">-1347</text></g>
<g id="o1348a" transform="translate(510 1484)rotate(-90)"><rect class="tg" width="24" height="12"/><rect class="tg" width="7" height="12"/><use href="#d" x="4" y="6"/><text class="tt" x="16" y="6">-1348</text></g>
<g id="o1348b" transform="translate(574 1488)rotate(-90)"><rect class="tg" width="25" height="12"/><rect class="tg" width="8" height="12"/><use href="#d" x="4" y="5.5"/><text class="tt" x="16.5" y="6">-1348</text></g>
<g id="iNeutron" transform="translate(541 582)rotate(-90)"><rect class="tg" width="43" height="12"/><rect class="tg" x="35" width="8" height="12"/><use href="#d" x="40" y="5"/><text class="tt" x="17.5" y="6">Neutron Power</text></g>
<g id="iReactor" transform="translate(622 676)rotate(-90)"><rect class="tg" width="54" height="11"/><rect class="tg" x="46" width="8" height="11"/><use href="#d" x="51" y="5"/><text class="tt" x="23" y="5.5">REACTOR PERCE</text></g>
<g id="iTime" transform="translate(801 649)rotate(-90)"><rect class="tg" width="20" height="12"/><rect class="tg" x="12" width="8" height="12"/><use href="#d" x="18" y="5"/><text class="tt" x="6" y="6">Time</text></g>
<g id="iNull3" transform="translate(167 1073)rotate(-90)"><rect class="tg" width="62" height="12"/><rect class="tg" x="54" width="8" height="12"/><use href="#d" x="60" y="5"/><text class="tt" x="27" y="6">NULL/Sw-SwMODE</text></g>
<g id="iLev3a" transform="translate(331 1107)rotate(-90)"><rect class="tg" width="57" height="12"/><rect class="tg" x="49" width="8" height="12"/><use href="#d" x="55" y="6"/><text class="tt" x="24.5" y="6">Level in SG-3 (Coll</text></g>
<g id="iLev3b" transform="translate(407 1114)rotate(-90)"><rect class="tg" width="56" height="11"/><rect class="tg" x="48" width="8" height="11"/><use href="#d" x="54" y="5"/><text class="tt" x="24" y="5.5">Level in SG-3 (Coll</text></g>
<g id="iPr3a" transform="translate(101 1601)rotate(-90)"><rect class="tg" width="43" height="12"/><rect class="tg" x="35" width="8" height="12"/><use href="#d" x="40" y="5"/><text class="tt" x="17.5" y="6">Pressure SG-3</text></g>
<g id="iDt3" transform="translate(172 1621)rotate(-90)"><rect class="tg" width="63" height="12"/><rect class="tg" x="55" width="8" height="12"/><use href="#d" x="60" y="6"/><text class="tt" x="27.5" y="6">DeltaT-SAT 1-2 for MSL</text></g>
<g id="iHL3" transform="translate(214 1611)rotate(-90)"><rect class="tg" width="53" height="12"/><rect class="tg" x="45" width="8" height="12"/><use href="#d" x="50" y="5"/><text class="tt" x="22.5" y="6">HL #3 temperature</text></g>
<g id="iDP3" transform="translate(294 1603)rotate(-90)"><rect class="tg" width="49" height="12"/><rect class="tg" x="41" width="8" height="12"/><use href="#d" x="47" y="5"/><text class="tt" x="20.5" y="6">DP CHKVLV MSL</text></g>
<g id="iPr3b" transform="translate(367 1598)rotate(-90)"><rect class="tg" width="44" height="12"/><rect class="tg" x="36" width="8" height="12"/><use href="#d" x="41" y="6"/><text class="tt" x="18" y="6">Pressure SG-3</text></g>
<g id="iLev3c" transform="translate(437 1610)rotate(-90)"><rect class="tg" width="53" height="12"/><rect class="tg" x="45" width="8" height="12"/><use href="#d" x="50" y="6"/><text class="tt" x="22.5" y="6">Level in SG-3 (Coll</text></g>
<g id="iLoc3" transform="translate(433 1353)rotate(-90)"><rect class="tg" width="70" height="13"/><rect class="tg" x="62" width="8" height="13"/><use href="#d" x="67" y="6"/><text class="tt" x="31" y="6.5">LocalLoad VALVES + 8</text></g>
<g id="iSt3" transform="translate(447 1447)rotate(-90)"><rect class="tg" width="55" height="11"/><rect class="tg" x="47" width="8" height="11"/><use href="#d" x="52" y="5"/><text class="tt" x="23.5" y="5.5">Status/No Energy</text></g>
<g id="iNull4" transform="translate(526 1132)rotate(-90)"><rect class="tg" width="56" height="12"/><rect class="tg" x="48" width="8" height="12"/><use href="#d" x="53" y="5"/><text class="tt" x="24" y="6">NULL/Sw-SwMODE</text></g>
<g id="iLs4a" transform="translate(664 1121)rotate(-90)"><rect class="tg" width="78" height="12"/><rect class="tg" x="70" width="8" height="12"/><use href="#d" x="75" y="6"/><text class="tt" x="35" y="6">Level SG (Collapsed Mod</text></g>
<g id="iLs4b" transform="translate(736 1118)rotate(-90)"><rect class="tg" width="78" height="12"/><rect class="tg" x="70" width="8" height="12"/><use href="#d" x="75" y="6"/><text class="tt" x="35" y="6">Level SG (Collapsed Mod</text></g>
<g id="iLoc4" transform="translate(796 1401)rotate(-90)"><rect class="tg" width="69" height="12"/><rect class="tg" x="61" width="8" height="12"/><use href="#d" x="67" y="6"/><text class="tt" x="30.5" y="6">LocalLoad VALVES + 8</text></g>
<g id="iSt4" transform="translate(823 1474)rotate(-90)"><rect class="tg" width="56" height="12"/><rect class="tg" x="48" width="8" height="12"/><use href="#d" x="51" y="5"/><text class="tt" x="24" y="6">Status/No Energy</text></g>
<g id="iPr4a" transform="translate(511 1602)rotate(-90)"><rect class="tg" width="44" height="11"/><rect class="tg" x="36" width="8" height="11"/><use href="#d" x="41" y="5"/><text class="tt" x="18" y="5.5">Pressure SG-4</text></g>
<g id="iDt4" transform="translate(574 1621)rotate(-90)"><rect class="tg" width="63" height="12"/><rect class="tg" x="55" width="8" height="12"/><use href="#d" x="60" y="5"/><text class="tt" x="27.5" y="6">DeltaT-SAT 1-2 for MSL</text></g>
<g id="iHL4" transform="translate(628 1611)rotate(-90)"><rect class="tg" width="49" height="11"/><rect class="tg" x="41" width="8" height="11"/><use href="#d" x="47" y="5"/><text class="tt" x="20.5" y="5.5">HL #4 temperature</text></g>
<g id="iDP4" transform="translate(705 1603)rotate(-90)"><rect class="tg" width="49" height="12"/><rect class="tg" x="41" width="8" height="12"/><use href="#d" x="47" y="6"/><text class="tt" x="20.5" y="6">DP CHKVLV MSL</text></g>
<g id="iPr4b" transform="translate(786 1596)rotate(-90)"><rect class="tg" width="42" height="12"/><rect class="tg" x="34" width="8" height="12"/><use href="#d" x="39" y="5"/><text class="tt" x="17" y="6">Pressure-SG-4</text></g>
<g id="iLs4c" transform="translate(858 1628)rotate(-90)"><rect class="tg" width="76" height="11"/><rect class="tg" x="68" width="8" height="11"/><use href="#d" x="73" y="4"/><text class="tt" x="34" y="5.5">Level SG (Collapsed Mod</text></g>
</g>
</g>
</svg>
